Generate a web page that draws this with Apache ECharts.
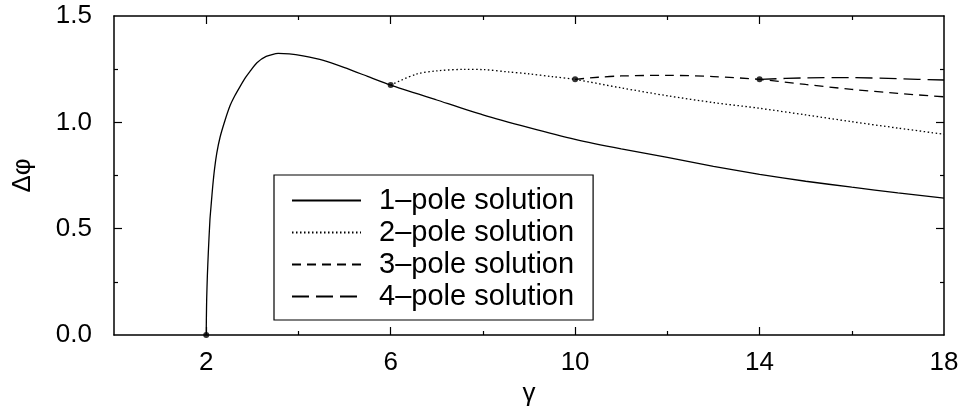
<!DOCTYPE html>
<html>
<head>
<meta charset="utf-8">
<script src="https://cdn.jsdelivr.net/npm/echarts@6/dist/echarts.min.js"></script>
<style>
  html, body { margin: 0; padding: 0; background: #fff; }
  #chart { width: 960px; height: 410px; }
</style>
</head>
<body>
<div id="chart"></div>
<script>
// gamma values and delta-phi, one pair of arrays per curve
const gamma1 = [2, 2.003, 2.01, 2.025, 2.045, 2.08, 2.11, 2.14, 2.18, 2.23, 2.3, 2.41, 2.52, 2.62, 2.73, 2.85, 2.95, 3.1, 3.3, 3.56, 3.8, 4.1, 4.54, 5.0, 5.5, 6, 7, 8, 9, 10, 11, 12, 13, 14, 15, 16, 17, 18];
const phi1 = [0, 0.07, 0.17, 0.28, 0.386, 0.54, 0.62, 0.697, 0.78, 0.856, 0.93, 1.011, 1.08, 1.125, 1.167, 1.21, 1.24, 1.28, 1.31, 1.324, 1.322, 1.312, 1.291, 1.257, 1.216, 1.175, 1.105, 1.035, 0.975, 0.92, 0.875, 0.835, 0.793, 0.755, 0.723, 0.695, 0.668, 0.644];

const gamma2 = [6, 6.56, 7, 7.6, 8, 8.55, 9, 9.5, 10, 11, 12, 13, 14, 15, 16, 17, 18];
const phi2 = [1.175, 1.227, 1.242, 1.249, 1.248, 1.237, 1.228, 1.215, 1.202, 1.162, 1.125, 1.093, 1.066, 1.035, 1.003, 0.973, 0.944];

const gamma3 = [10, 10.5, 11, 12, 13, 14, 15, 16, 17, 18];
const phi3 = [1.202, 1.212, 1.218, 1.221, 1.215, 1.202, 1.178, 1.155, 1.136, 1.12];

const gamma4 = [14, 15, 16, 17, 18];
const phi4 = [1.202, 1.209, 1.21, 1.205, 1.199];

// branch points
const dotGamma = [2, 6, 10, 14];
const dotPhi = [0, 1.175, 1.202, 1.202];

const seriesNames = ['1\u2013pole solution', '2\u2013pole solution', '3\u2013pole solution', '4\u2013pole solution'];

const xLabelValues = [2, 6, 10, 14, 18];
const xMajorTicks = [2, 6, 10, 14];
const xMinorTicks = [4, 8, 12, 16];
const yLabelValues = [0, 0.5, 1.0, 1.5];
const yMajorTicks = [0.5, 1.0];
const yMinorTicks = [0.25, 0.75, 1.25];

const FONT = 'Liberation Sans';
const zip = (xs, ys) => xs.map((x, i) => [x, ys[i]]);
const spine = { show: true, onZero: false, lineStyle: { color: '#000', width: 1.5 } };
const noSpine = { show: false, onZero: false };

// axis that only carries ticks (frame mirrors and minor ticks)
function tickAxis(kind, grid, position, ticks, len, line) {
  return {
    type: 'value',
    gridIndex: grid,
    position: position,
    min: 0,
    max: kind === 'x' ? 18 : 1.5,
    axisLine: line ? spine : noSpine,
    axisLabel: { show: false },
    splitLine: { show: false },
    axisTick: { show: true, inside: true, length: len, customValues: ticks,
      lineStyle: { color: '#000', width: 1.2 } }
  };
}

const chart = echarts.init(document.getElementById('chart'), null, { renderer: 'canvas' });

const gridBox = { left: 114, right: 16, top: 16, bottom: 75, containLabel: false, outerBoundsMode: 'none' };

chart.setOption({
  animation: false,
  backgroundColor: '#fff',
  textStyle: { fontFamily: FONT },
  grid: [Object.assign({}, gridBox), Object.assign({}, gridBox)],
  xAxis: [
    {
      type: 'value', gridIndex: 0, position: 'bottom', min: 0, max: 18,
      name: 'γ', nameLocation: 'middle', nameGap: 44,
      nameTextStyle: { fontSize: 26, color: '#000', fontFamily: FONT },
      axisLine: spine,
      axisTick: { show: true, inside: true, length: 8, customValues: xMajorTicks,
        lineStyle: { color: '#000', width: 1.2 } },
      axisLabel: { customValues: xLabelValues, fontSize: 26, color: '#000', margin: 15, fontFamily: FONT },
      splitLine: { show: false }
    },
    tickAxis('x', 0, 'top', xMajorTicks, 8, true),
    tickAxis('x', 1, 'bottom', xMinorTicks, 4, false),
    tickAxis('x', 1, 'top', xMinorTicks, 4, false)
  ],
  yAxis: [
    {
      type: 'value', gridIndex: 0, position: 'left', min: 0, max: 1.5,
      name: 'Δφ', nameLocation: 'middle', nameGap: 78, nameRotate: 90,
      nameTextStyle: { fontSize: 26, color: '#000', fontFamily: FONT },
      axisLine: spine,
      axisTick: { show: true, inside: true, length: 8, customValues: yMajorTicks,
        lineStyle: { color: '#000', width: 1.2 } },
      axisLabel: { customValues: yLabelValues, fontSize: 26, color: '#000', margin: 22, fontFamily: FONT,
        formatter: v => v.toFixed(1) },
      splitLine: { show: false }
    },
    tickAxis('y', 0, 'right', yMajorTicks, 8, true),
    tickAxis('y', 1, 'left', yMinorTicks, 4, false),
    tickAxis('y', 1, 'right', yMinorTicks, 4, false)
  ],
  legend: {
    orient: 'vertical',
    left: 274, top: 175,
    padding: [11, 19, 9, 17],
    itemWidth: 69, itemHeight: 14, itemGap: 3,
    borderColor: '#000', borderWidth: 1.2,
    backgroundColor: '#fff',
    data: seriesNames,
    itemStyle: { opacity: 0 },
    textStyle: { fontSize: 29, color: '#000', fontFamily: FONT, padding: [0, 0, 0, 13] }
  },
  series: [
    { name: seriesNames[0], type: 'line', data: zip(gamma1, phi1), smooth: 0.2, symbol: 'none',
      itemStyle: { color: '#000' }, lineStyle: { color: '#000', width: 1.3, type: 'solid' } },
    { name: seriesNames[1], type: 'line', data: zip(gamma2, phi2), smooth: 0.3, symbol: 'none',
      itemStyle: { color: '#000' }, lineStyle: { color: '#000', width: 1.3, type: [1.5, 2.5] } },
    { name: seriesNames[2], type: 'line', data: zip(gamma3, phi3), smooth: 0.3, symbol: 'none',
      itemStyle: { color: '#000' }, lineStyle: { color: '#000', width: 1.3, type: [9, 6] } },
    { name: seriesNames[3], type: 'line', data: zip(gamma4, phi4), smooth: 0.3, symbol: 'none',
      itemStyle: { color: '#000' }, lineStyle: { color: '#000', width: 1.3, type: [17, 7] } },
    { type: 'scatter', data: zip(dotGamma, dotPhi), symbolSize: 6, z: 5,
      itemStyle: { color: '#000' } }
  ]
});
</script>
</body>
</html>
